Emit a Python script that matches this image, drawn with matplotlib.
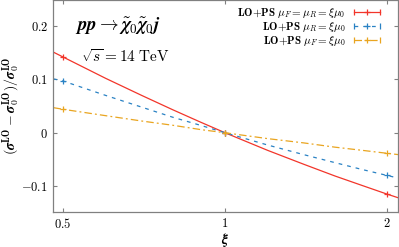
import matplotlib
matplotlib.use('Agg')
from matplotlib import pyplot as plt
from matplotlib.lines import Line2D
from matplotlib.legend_handler import HandlerLine2D, HandlerTuple
import numpy as np

plt.rcParams['mathtext.fontset'] = 'cm'
plt.rcParams['font.family'] = 'serif'
plt.rcParams['font.serif'] = ['cmr10']
plt.rcParams['axes.formatter.use_mathtext'] = True

# scale factor xi and relative deviation curves
xi = [0.48, 0.5, 0.6, 0.7, 0.8, 0.9, 1.0, 1.2, 1.4, 1.6, 1.8, 2.0, 2.1]
dev_FR = [0.151, 0.142, 0.102, 0.070, 0.043, 0.020, 0.0, -0.033, -0.059, -0.081, -0.099, -0.115, -0.122]
dev_R = [0.101, 0.097, 0.070, 0.048, 0.029, 0.014, 0.0, -0.023, -0.041, -0.056, -0.069, -0.080, -0.085]
dev_F = [0.047, 0.044, 0.032, 0.022, 0.014, 0.006, 0.0, -0.011, -0.019, -0.027, -0.033, -0.0385, -0.041]

xi_pts = [0.5, 1.0, 2.0]
pts_FR = [0.142, 0.0, -0.115]
pts_R = [0.097, 0.0, -0.080]
pts_F = [0.044, 0.0, -0.0385]

labels = [r'$\mathbf{LO{+}PS}\ \mu_F=\mu_R=\xi\mu_0$',
          r'$\mathbf{LO{+}PS}\ \mu_R=\xi\mu_0$',
          r'$\mathbf{LO{+}PS}\ \mu_F=\xi\mu_0$']
colors = ['#f2352a', '#2a82c4', '#e9a520']
styles = ['-', (0, (3, 4)), (0, (6, 2.5, 1.5, 2.5))]

fig = plt.figure(figsize=(3.99, 2.47), dpi=100)
ax = fig.add_axes([0.133, 0.143, 0.864, 0.855])

handles = []
for y, yp, c, ls in zip([dev_FR, dev_R, dev_F], [pts_FR, pts_R, pts_F], colors, styles):
    ax.plot(xi, y, color=c, lw=0.9, ls=ls)
    ax.plot(xi_pts, yp, ls='none', marker='+', ms=5, mew=0.9, color=c)
    cap = Line2D([], [], color=c, lw=0.9, ls=ls, marker='|', ms=5, mew=0.9)
    plus = Line2D([], [], ls='none', marker='+', ms=5, mew=0.9, color=c)
    handles.append((cap, plus))

hmap = {}
for cap, plus in handles:
    hmap[cap] = HandlerLine2D(numpoints=2)
    hmap[plus] = HandlerLine2D(numpoints=1)
hmap[tuple] = HandlerTuple(ndivide=1)

leg = ax.legend(handles, labels, loc='upper right', frameon=False, markerfirst=False,
                fontsize=8, handlelength=3.0, handletextpad=0.45, labelspacing=0.0,
                borderaxespad=0.2, borderpad=0.3, handler_map=hmap,
                bbox_to_anchor=(0.975, 1.0))

ax.set_xscale('log')
ax.set_xlim(0.479, 2.095)
ax.set_ylim(-0.148, 0.248)
ax.set_xticks([0.5, 1, 2])
ax.set_xticklabels(['$0.5$', '$1$', '$2$'])
ax.xaxis.set_minor_locator(matplotlib.ticker.NullLocator())
ax.set_yticks([-0.1, 0, 0.1, 0.2])
ax.set_yticklabels(['$-0.1$', '$0$', '$0.1$', '$0.2$'])
ax.tick_params(direction='in', top=True, right=True, labelsize=9, length=3, color='#808080', width=0.8)
for s in ax.spines.values():
    s.set_color('#808080')
    s.set_linewidth(0.9)

ax.set_xlabel(r'$\mathbfit{\xi}$', fontsize=10, labelpad=0)
ax.set_ylabel(r'$(\mathbfit{\sigma}^{\mathbf{LO}}-\mathbfit{\sigma}_0^{\mathbf{LO}})/\mathbfit{\sigma}_0^{\mathbf{LO}}$',
              fontsize=10, va='center')
ax.yaxis.set_label_coords(-0.12, 0.5)

ax.text(0.065, 0.855, r'$\mathbfit{pp}\rightarrow\tilde{\mathbfit{\chi}}_0\tilde{\mathbfit{\chi}}_0 \mathbfit{j}$',
        transform=ax.transAxes, fontsize=13.5)
ax.text(0.08, 0.71, r'$\sqrt{s}=14\ \mathrm{TeV}$', transform=ax.transAxes, fontsize=11)

plt.savefig('out.png', dpi=100)
